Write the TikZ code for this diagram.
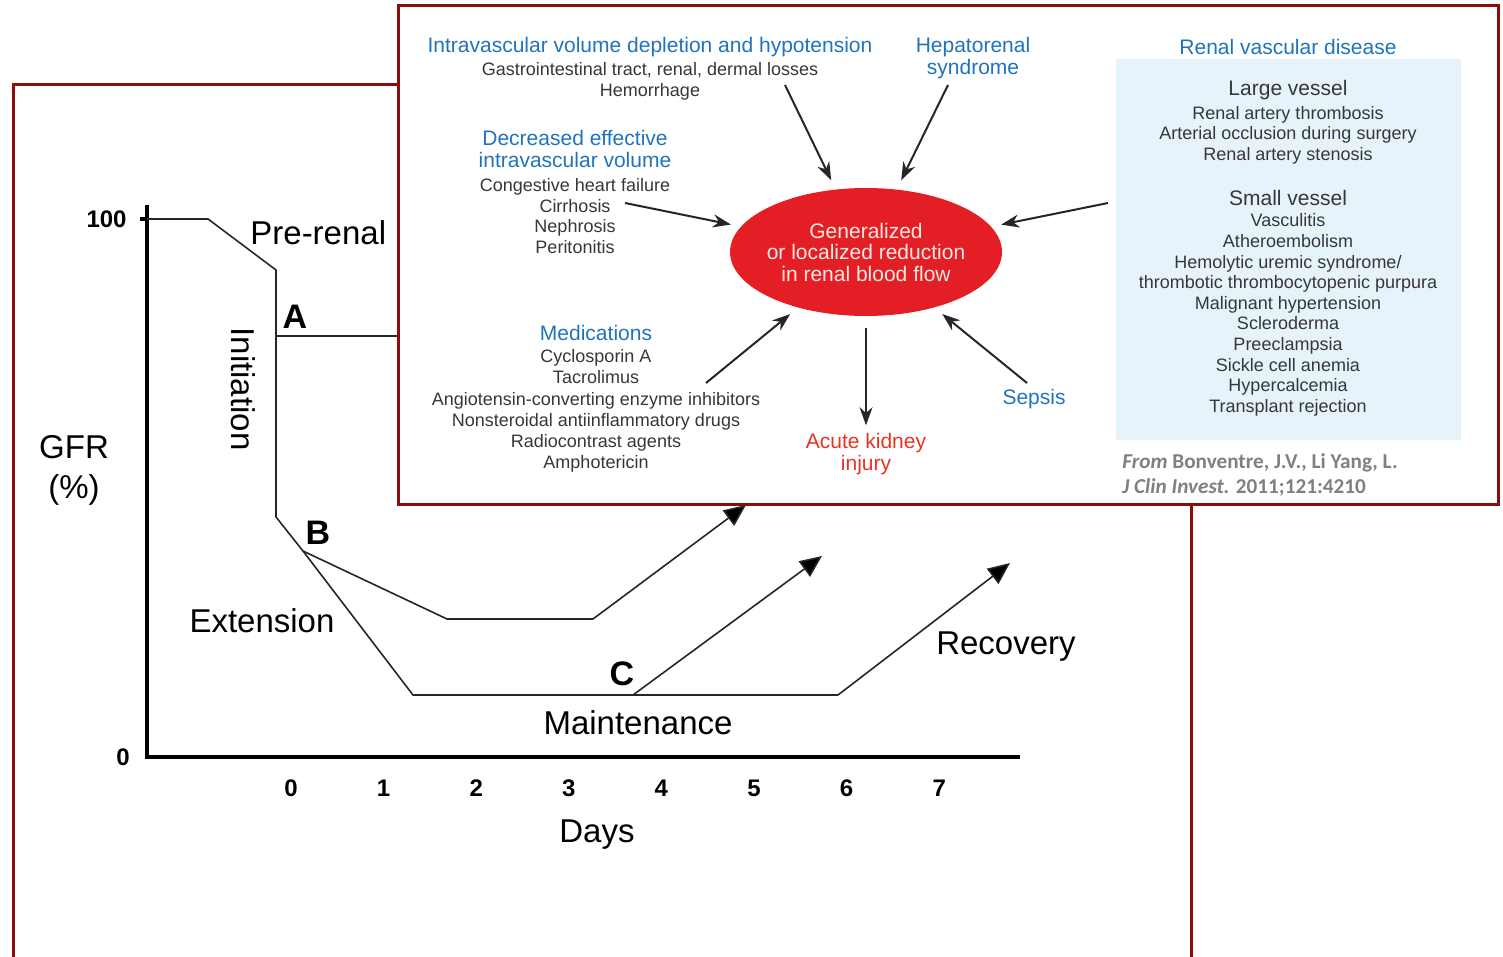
\documentclass[tikz,border=0pt]{standalone}
\usepackage{fontspec}
\setmainfont{Liberation Sans}
\newfontfamily\citefont{Carlito}
\usetikzlibrary{arrows.meta,shapes.geometric}
\definecolor{framered}{RGB}{140,12,12}
\definecolor{headblue}{RGB}{32,116,190}
\definecolor{itemgray}{RGB}{55,55,55}
\definecolor{flowred}{RGB}{227,30,36}
\definecolor{flowtext}{RGB}{255,232,226}
\definecolor{injuryred}{RGB}{232,52,36}
\definecolor{vesselblue}{RGB}{230,243,251}
\definecolor{citegray}{RGB}{128,128,128}
\begin{document}
\begin{tikzpicture}[x=0.5pt,y=-0.5pt,
    boxframe/.style={draw=framered, line width=1.5pt},
    gfraxis/.style={black, line width=2pt},
    gfrline/.style={black!85, line width=0.8pt},
    recover/.style={gfrline, -{Triangle[length=11pt,width=9.5pt,fill=black]}},
    phase/.style={inner sep=0pt, font=\fontsize{16.5}{18}\selectfont},
    letter/.style={inner sep=0pt, font=\bfseries\fontsize{17}{18}\selectfont},
    daylabel/.style={inner sep=0pt, font=\bfseries\fontsize{12}{13}\selectfont},
    causehead/.style={text=headblue, align=center, inner sep=0pt, font=\fontsize{10.5}{10.6}\selectfont},
    causeitem/.style={text=itemgray, align=center, inner sep=0pt, font=\fontsize{9}{10.4}\selectfont},
    vessel/.style={text=itemgray, inner sep=0pt, font=\fontsize{10.5}{11}\selectfont},
    cause/.style={-{Stealth[length=9pt,width=6.5pt]}, line width=1pt, black!85, shorten >=5pt}
  ]
  \clip (0,0) rectangle (1503,957);
  \draw[boxframe] (13,1000) -- (13,85) -- (1191,85) -- (1191,1000);

  \coordinate (ytop) at (147,205);
  \coordinate (origin) at (147,757);
  \coordinate (xend) at (1020,757);
  \coordinate (hundred) at (140,219);
  \coordinate (start) at (147,219);
  \coordinate (drop) at (208,219);
  \coordinate (initA) at (276,270);
  \coordinate (pointA) at (276,336);
  \coordinate (initB) at (276,517);
  \coordinate (pointB) at (303,551);
  \coordinate (extlow) at (447,619);
  \coordinate (extend) at (593,619);
  \coordinate (upA) at (746,505);
  \coordinate (mainlow) at (413,695);
  \coordinate (pointC) at (633,695);
  \coordinate (upC) at (822,556);
  \coordinate (mainend) at (838,695);
  \coordinate (upend) at (1010,563);

  \draw[gfraxis] (ytop) -- (origin) -- (xend);
  \draw[gfraxis] (hundred) -- (start);
  \draw[gfrline] (start) -- (drop) -- (initA) -- (initB) -- (pointB) -- (extlow) -- (extend);
  \draw[gfrline] (pointA) -- (440,336);
  \draw[gfrline] (pointB) -- (mainlow) -- (mainend);
  \draw[recover] (extend) -- (upA);
  \draw[recover] (pointC) -- (upC);
  \draw[recover] (mainend) -- (upend);

  \node[daylabel, anchor=east] (lab100) at (127,219) {100};
  \node[daylabel] (lab0) at (123,757) {0};
  \foreach \d in {0,...,7}
    \node[daylabel] (day\d) at (291+92.6*\d,788) {\d};
  \node[phase] (days) at (597,835) {Days};
  \node[phase, align=center, font=\fontsize{16.5}{20}\selectfont] (gfr) at (74,470) {GFR\\(\%)};
  \node[phase, anchor=west] (prerenal) at (250,233) {Pre-renal};
  \node[phase, rotate=-90] (initiation) at (243,389) {Initiation};
  \node[phase] (extension) at (262,621) {Extension};
  \node[phase] (maintenance) at (638,723) {Maintenance};
  \node[phase] (recovery) at (1006,647) {Recovery};
  \node[letter] (labA) at (295,317) {A};
  \node[letter] (labB) at (318,533) {B};
  \node[letter] (labC) at (622,674) {C};

  \draw[boxframe, fill=white] (398,6) rectangle (1498,504);
  \fill[vesselblue] (1116,59) rectangle (1461,440);

  \node[ellipse, fill=flowred, text=flowtext, minimum width=136pt, minimum height=64pt,
        inner xsep=-2.5pt, inner ysep=0pt, align=center, font=\fontsize{10.5}{10.75}\selectfont] (flow) at (866,252)
        {Generalized\\or localized reduction\\in renal blood flow};

  \node[causehead] (volume) at (650,47) {Intravascular volume depletion and hypotension};
  \node[causeitem] (volumeitems) at (650,81) {Gastrointestinal tract, renal, dermal losses\\Hemorrhage};
  \node[causehead] (effective) at (575,149) {Decreased effective\\intravascular volume};
  \node[causeitem] (effectiveitems) at (575,216) {Congestive heart failure\\Cirrhosis\\Nephrosis\\Peritonitis};
  \node[causehead] (hepatorenal) at (973,58) {Hepatorenal\\syndrome};
  \node[causehead] (medications) at (596,333) {Medications};
  \node[causeitem, font=\fontsize{9}{10.6}\selectfont] (medicationitems) at (596,411)
    {Cyclosporin A\\Tacrolimus\\Angiotensin-converting enzyme inhibitors\\Nonsteroidal antiinflammatory drugs\\Radiocontrast agents\\Amphotericin};
  \node[causehead] (sepsis) at (1034,399) {Sepsis};
  \node[causehead, text=injuryred] (injury) at (866,454) {Acute kidney\\injury};
  \node[causehead] (renal) at (1288,47) {Renal vascular disease};
  \node[vessel] (large) at (1288,90) {Large vessel};
  \node[causeitem, font=\fontsize{9}{10.25}\selectfont] (largeitems) at (1288,135)
    {Renal artery thrombosis\\Arterial occlusion during surgery\\Renal artery stenosis};
  \node[vessel] (small) at (1288,198) {Small vessel};
  \node[causeitem, font=\fontsize{9}{10.33}\selectfont] (smallitems) at (1288,315)
    {Vasculitis\\Atheroembolism\\Hemolytic uremic syndrome/\\thrombotic thrombocytopenic purpura\\Malignant hypertension\\Scleroderma\\Preeclampsia\\Sickle cell anemia\\Hypercalcemia\\Transplant rejection};
  \node[anchor=west, align=left, inner sep=0pt, text=citegray,
        font=\citefont\bfseries\fontsize{10.6}{12.5}\selectfont] (cite) at (1122,475)
    {\textit{From} Bonventre, J.V., Li Yang, L.\\\textit{J Clin Invest.} 2011;121:4210};

  \coordinate (fromvolume) at (785,85);
  \coordinate (fromhepato) at (948,85);
  \coordinate (fromeffective) at (625,203);
  \coordinate (fromrenal) at (1108,203);
  \coordinate (frommeds) at (706,383);
  \coordinate (fromsepsis) at (1027,383);
  \draw[cause] (fromvolume) -- (flow);
  \draw[cause] (fromhepato) -- (flow);
  \draw[cause] (fromeffective) -- (flow);
  \draw[cause] (fromrenal) -- (flow);
  \draw[cause] (frommeds) -- (flow);
  \draw[cause] (fromsepsis) -- (flow);
  \draw[cause, shorten <=6pt, shorten >=4pt] (flow) -- (injury);
\end{tikzpicture}
\end{document}
